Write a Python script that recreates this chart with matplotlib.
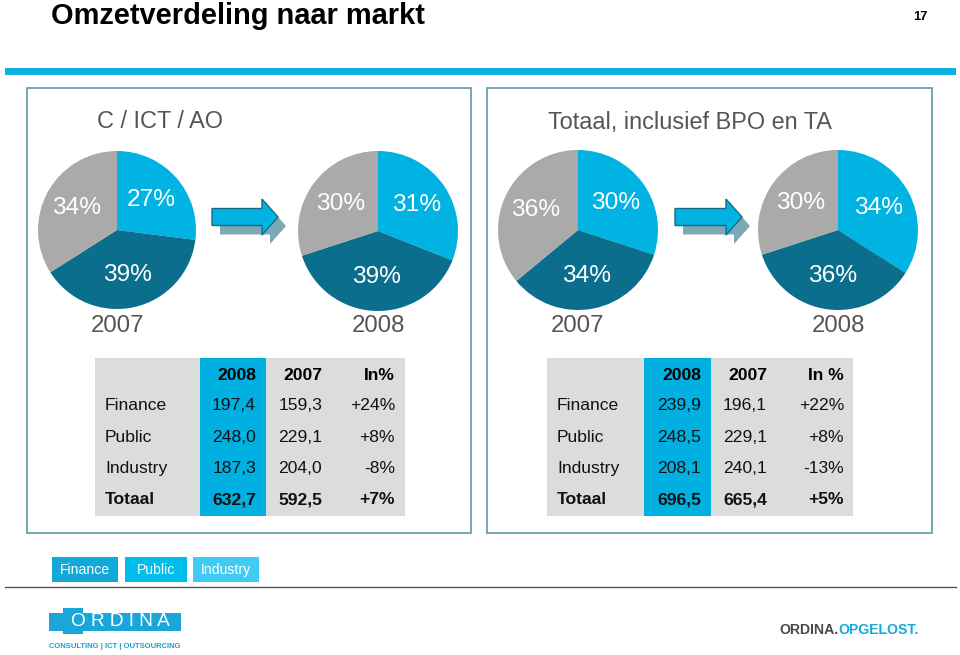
import numpy as np
import matplotlib
matplotlib.use('Agg')
import matplotlib.pyplot as plt
from matplotlib.patches import Rectangle, FancyArrow

# pie shares (Finance, Public, Industry) in %
markets = ['Finance', 'Public', 'Industry']
ict_2007 = [27, 39, 34]
ict_2008 = [31, 39, 30]
tot_2007 = [30, 34, 36]
tot_2008 = [34, 36, 30]

# table contents
row_labels = ['Finance', 'Public', 'Industry', 'Totaal']
ict_tab_2008 = ['197,4', '248,0', '187,3', '632,7']
ict_tab_2007 = ['159,3', '229,1', '204,0', '592,5']
ict_tab_pct = ['+24%', '+8%', '-8%', '+7%']
tot_tab_2008 = ['239,9', '248,5', '208,1', '696,5']
tot_tab_2007 = ['196,1', '229,1', '240,1', '665,4']
tot_tab_pct = ['+22%', '+8%', '-13%', '+5%']

pie_colors = ['#00B3E3', '#0B6E8D', '#AAAAAA']
legend_colors = ['#12A9D9', '#00BDEC', '#3FCBF3']
FONT = ['Liberation Sans', 'DejaVu Sans']
plt.rcParams['font.family'] = FONT

W, H = 960, 655
fig = plt.figure(figsize=(9.6, 6.55), dpi=100)
ax = fig.add_axes([0, 0, 1, 1])
ax.set_xlim(0, W)
ax.set_ylim(H, 0)
ax.axis('off')


def pt(px):
	return px / (100 / 72)


# header
ax.text(51, 24, 'Omzetverdeling naar markt', fontsize=pt(29), fontweight='bold',
	family=['Liberation Sans Narrow', 'Liberation Sans'], va='baseline', ha='left')
ax.text(913, 17, '17', fontsize=pt(13), fontweight='bold', va='center', ha='left',
	family=['Liberation Sans Narrow', 'Liberation Sans'])
ax.add_patch(Rectangle((5, 68), 951, 7, color='#0DB0DF', lw=0))

# panel boxes
for x0, x1 in [(27, 471), (487, 932)]:
	ax.add_patch(Rectangle((x0, 88), x1 - x0, 445, fill=False, ec='#5E98A5', lw=1.2))
ax.text(160, 122, 'C / ICT / AO', fontsize=pt(23.5), color='#555555', ha='center', va='center')
ax.text(690, 122, 'Totaal, inclusief BPO en TA', fontsize=pt(23.5), color='#555555',
	ha='center', va='center')


def draw_pie(cx, cy, r, vals, year):
	pax = fig.add_axes([(cx - r) / W, 1 - (cy + r) / H, 2 * r / W, 2 * r / H])
	pax.pie(vals, colors=pie_colors, startangle=90, counterclock=False,
		autopct=lambda p: '%d%%' % round(p), pctdistance=0.58,
		textprops=dict(color='white', fontsize=pt(24.5)),
		wedgeprops=dict(linewidth=0))
	pax.set_xlim(-1, 1)
	pax.set_ylim(-1, 1)
	pax.axis('off')
	ax.text(cx, 326, year, fontsize=pt(24), color='#555555', ha='center', va='center')


draw_pie(117, 230, 79, ict_2007, '2007')
draw_pie(378, 231, 80, ict_2008, '2008')
draw_pie(578, 230, 80, tot_2007, '2007')
draw_pie(838, 230, 80, tot_2008, '2008')


def draw_arrow(x0, x1):
	ax.add_patch(FancyArrow(x0 + 8, 226, x1 - x0, 0, width=17, head_width=36,
		head_length=16, length_includes_head=True, fc='#7DA9B4', ec='none', zorder=2))
	ax.add_patch(FancyArrow(x0, 217, x1 - x0, 0, width=17, head_width=36,
		head_length=16, length_includes_head=True, fc='#00B3E3', ec='#1B6A80',
		lw=1, zorder=3))


draw_arrow(212, 278)
draw_arrow(675, 742)


def draw_table(x0, x1, bx0, bx1, xlab, xcols, vals, pct_head):
	ax.add_patch(Rectangle((x0, 358), x1 - x0, 158, color='#DCDCDC', lw=0))
	ax.add_patch(Rectangle((bx0, 358), bx1 - bx0, 158, color='#00B0E0', lw=0))
	heads = ['2008', '2007', pct_head]
	for xc, h in zip(xcols, heads):
		ax.text(xc, 375, h, fontsize=pt(17.5), fontweight='bold', ha='right', va='center')
	for i, lab in enumerate(row_labels):
		y = 406 + i * 31.3
		bold = 'bold' if lab == 'Totaal' else 'normal'
		ax.text(xlab, y, lab, fontsize=pt(17.5), fontweight=bold, ha='left', va='center',
			color='#111111')
		for xc, col in zip(xcols, vals):
			ax.text(xc, y, col[i], fontsize=pt(17.5), fontweight=bold, ha='right',
				va='center', color='#111111')


draw_table(95, 405, 200, 266, 105, [256, 322, 395],
	[ict_tab_2008, ict_tab_2007, ict_tab_pct], 'In%')
draw_table(547, 853, 644, 711, 557, [701, 767, 844],
	[tot_tab_2008, tot_tab_2007, tot_tab_pct], 'In %')

# legend boxes
for (lx, lw_), name, c in zip([(52, 66), (125, 62), (193, 66)], markets, legend_colors):
	ax.add_patch(Rectangle((lx, 557), lw_, 25, color=c, lw=0))
	ax.text(lx + lw_ / 2, 570, name, fontsize=pt(14), color='white', ha='center', va='center')

ax.plot([5, 956], [587, 587], color='#555555', lw=1)

# footer logos
ax.add_patch(Rectangle((49, 613), 132, 18, color='#1AA6D8', lw=0))
ax.add_patch(Rectangle((63, 608), 20, 26, color='#1AA6D8', lw=0, angle=0))
ax.text(120, 622, 'O R D I N A', fontsize=pt(19), color='white', ha='center', va='center')
ax.text(115, 646, 'CONSULTING | ICT | OUTSOURCING', fontsize=pt(7.6), fontweight='bold',
	color='#1A9FD0', ha='center', va='center')
t = ax.text(779, 630, 'ORDINA.', fontsize=pt(14), fontweight='bold', color='#4A4A4A',
	ha='left', va='center')
fig.canvas.draw()
bb = t.get_window_extent()
ax.text(779 + bb.width, 630, 'OPGELOST.', fontsize=pt(14), fontweight='bold',
	color='#14ABDC', ha='left', va='center')

fig.savefig('out.png', dpi=100)
plt.close(fig)
